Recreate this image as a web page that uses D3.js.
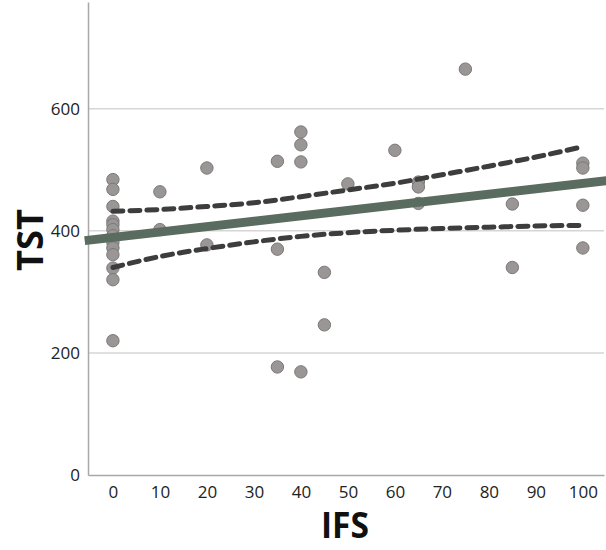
<!DOCTYPE html>
<html>
<head>
<meta charset="utf-8">
<script src="https://cdn.jsdelivr.net/npm/d3@7"></script>
<style>
body{margin:0;background:#fff;}
text{font-family:"Open Sans",sans-serif;}
</style>
</head>
<body>
<div class="chart"></div>
<script>
// scatter points
var ifs = [0,0,0,0,0,0,0,0,0,0,0,0,0, 10,10, 20,20, 35,35,35, 40,40,40,40, 45,45, 50, 60, 65,65,65, 75, 85,85, 100,100,100,100]
var tst = [484,468,440,416,410,402,392,381,372,361,339,320,220, 464,402, 503,377, 514,370,177, 562,541,513,169, 332,246, 477, 532, 480,472,445, 665, 444,340, 511,503,442,372]

// fit line ends
var fitX = [-6, 106]
var fitY = [384, 483]

// confidence band
var ciX = [0,10,20,30,40,50,60,70,80,90,100]
var ciUpper = [432,435,440,446,456,467,478,492,506,521,538]
var ciLower = [340,358,371,382,391,397,401,404,406,408,409]

var xTicks = [0,10,20,30,40,50,60,70,80,90,100]
var yTicks = [0,200,400,600]

var width = 606, height = 550
var margin = {left: 88, top: 2, right: 2, bottom: 75}

var svg = d3.select('.chart').append('svg')
  .attr('width', width).attr('height', height)

var x = d3.scaleLinear().domain([-5.3, 104.5]).range([margin.left, width - margin.right])
var y = d3.scaleLinear().domain([0, 775]).range([height - margin.bottom, margin.top])

// grid
svg.append('g').selectAll('line').data(yTicks.filter(d => d > 0)).join('line')
  .attr('x1', x.range()[0]).attr('x2', x.range()[1])
  .attr('y1', d => y(d)).attr('y2', d => y(d))
  .attr('stroke', '#d6d6d6').attr('stroke-width', 1.5)

// axes
var xAxis = svg.append('g').attr('transform', 'translate(0,' + y(0) + ')')
  .call(d3.axisBottom(x).tickValues(xTicks).tickSize(0).tickPadding(11))
var yAxis = svg.append('g').attr('transform', 'translate(' + x.range()[0] + ',0)')
  .call(d3.axisLeft(y).tickValues(yTicks).tickSize(0).tickPadding(8))
;[xAxis, yAxis].forEach(a => {
  a.select('.domain').attr('stroke', '#a8a8a8').attr('stroke-width', 1.5)
  a.selectAll('text').attr('font-size', 17).attr('fill', '#222')
    .attr('font-family', '"Open Sans",sans-serif')
})

// points
svg.append('g').selectAll('circle').data(ifs).join('circle')
  .attr('cx', d => x(d))
  .attr('cy', (d, i) => y(tst[i]))
  .attr('r', 6.2)
  .attr('fill', '#9a9696')
  .attr('stroke', '#7c7878').attr('stroke-width', 1)

// fit line
svg.append('line')
  .attr('x1', x(fitX[0])).attr('x2', x(fitX[1]))
  .attr('y1', y(fitY[0])).attr('y2', y(fitY[1]))
  .attr('stroke', '#5a6b60').attr('stroke-width', 9)

// CI lines
var ciLine = d3.line().x((d, i) => x(ciX[i])).y(d => y(d)).curve(d3.curveMonotoneX)
;[ciUpper, ciLower].forEach(arr => {
  svg.append('path').attr('d', ciLine(arr))
    .attr('fill', 'none').attr('stroke', '#3d3d3d').attr('stroke-width', 5)
    .attr('stroke-dasharray', '10,7').attr('stroke-linecap', 'round')
})

// axis titles
svg.append('text').text('IFS')
  .attr('x', 345).attr('y', 538).attr('text-anchor', 'middle')
  .attr('font-size', 35).attr('font-weight', 'bold').attr('fill', '#111')
  .attr('textLength', 48).attr('lengthAdjust', 'spacingAndGlyphs')
svg.append('text').text('TST')
  .attr('transform', 'translate(30,240) rotate(-90)')
  .attr('dy', '0.35em').attr('text-anchor', 'middle')
  .attr('font-size', 36).attr('font-weight', 'bold').attr('fill', '#111')
  .attr('textLength', 62).attr('lengthAdjust', 'spacingAndGlyphs')
</script>
</body>
</html>
